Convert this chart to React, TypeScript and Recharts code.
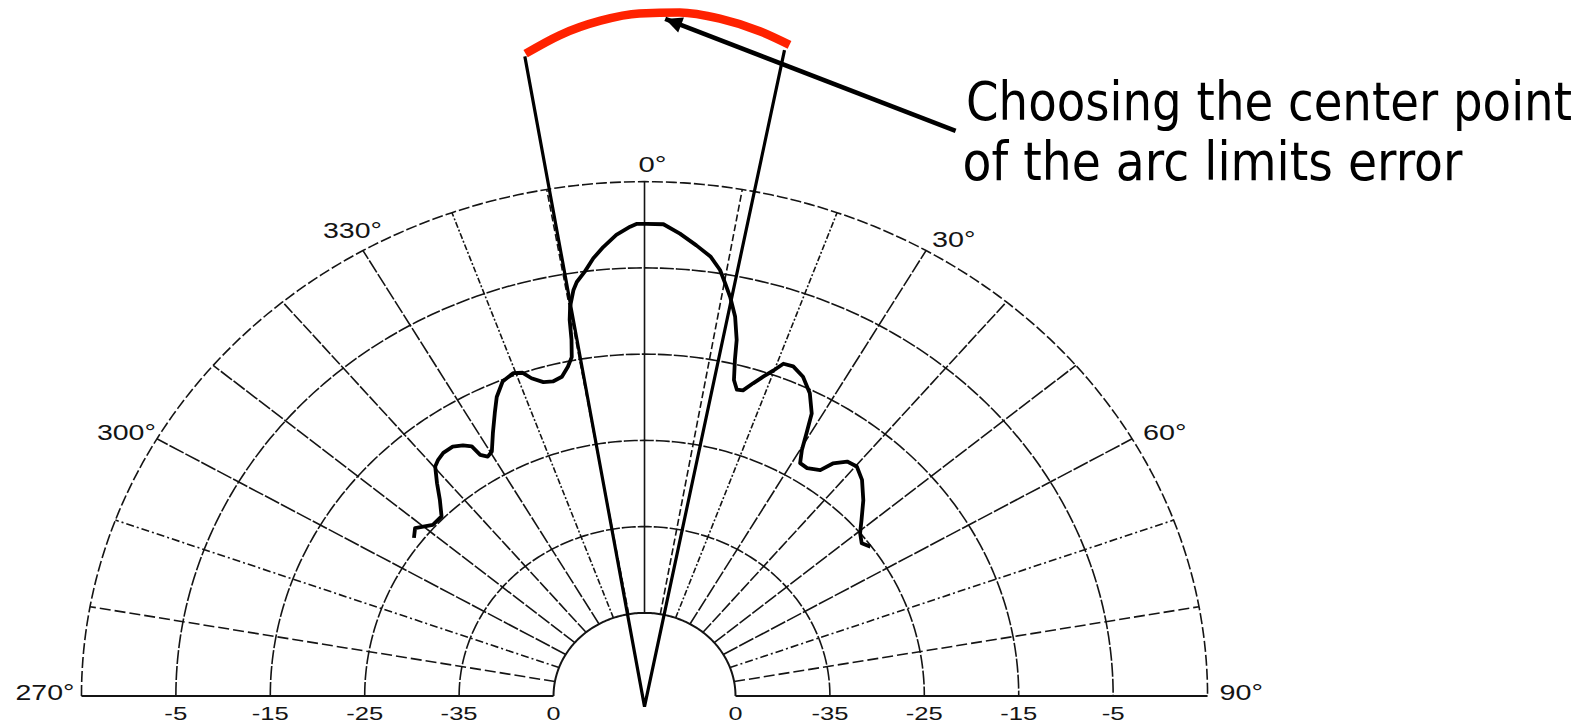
import React from 'react';
import { ComposedChart, Line, Scatter, XAxis, YAxis } from 'recharts';

// antenna pattern: compass angle (deg), level (dB)
const patternAngles = [
	-53.1, -51.3, -48.5, -45.9, -43.6, -41.7, -39.8, -38.6, -37.1, -35.1,
	-33.5, -32.3, -31.9, -30.9, -29.7, -27.8, -25.8, -24.3, -22.4, -20.4,
	-19.0, -18.0, -16.4, -14.9, -13.3, -12.0, -11.1, -10.6, -10.3, -9.9,
	-9.1, -8.5, -7.3, -6.1, -4.8, -3.2, -1.6, -0.9, 0.2, 2.1,
	4.0, 6.0, 7.8, 9.2, 10.1, 11.1, 12.3, 13.3, 13.8, 14.5,
	15.4, 16.4, 17.6, 18.8, 19.9, 20.9, 22.4, 24.4, 26.5, 28.4,
	29.4, 30.3, 31.4, 33.1, 35.4, 36.5, 38.3, 40.2, 42.6, 45.6,
	48.4, 50.4, 52.4, 54.1,
];
const patternLevels = [
	-24.1, -23.5, -24.7, -24.7, -23.2, -21.6, -20.0, -19.6, -19.3, -19.3,
	-19.8, -20.4, -21.7, -22.3, -22.0, -20.2, -18.2, -16.6, -15.2, -14.7,
	-15.0, -15.9, -16.7, -16.9, -16.6, -15.6, -14.6, -12.6, -10.3, -8.8,
	-7.0, -6.1, -5.0, -3.6, -2.4, -1.1, -0.2, 0.1, 0.1, 0.1,
	-0.9, -2.1, -3.2, -4.6, -6.0, -7.5, -9.6, -12.2, -14.5, -16.8,
	-17.8, -17.7, -16.6, -15.5, -14.5, -13.4, -13.3, -14.0, -15.4, -17.4,
	-19.7, -21.6, -23.0, -23.1, -22.5, -21.1, -20.0, -19.8, -20.6, -22.2,
	-23.9, -25.0, -25.6, -25.1,
];

const ringLevels = [-45, -35, -25, -15, -5, 5];
const ringLabels = ['0', '-35', '-25', '-15', '-5'];
const spokeAngles = [-80, -70, -60, -50, -40, -30, -20, -10, 0, 10, 20, 30, 40, 50, 60, 70, 80];
const angleTicks = [-90, -60, -30, 0, 30, 60, 90];
const angleTickLabels = ['270°', '300°', '330°', '0°', '30°', '60°', '90°'];

// red arc = the arc limits, and the wedge from the center to its ends
const limitAngles = [-9.6, -6.7, -3.4, -0.4, 2.7, 5.8, 9.0, 11.5];
const limitLevels = [20.9, 22.5, 23.8, 24.5, 24.7, 24.3, 23.4, 22.4];
const wedgeAngles = [-9.7, 180, 11.2];
const wedgeLevels = [20.6, -53.4, 21.7];
const arrowAngles = [26.7, 1.6];
const arrowLevels = [18.7, 23.9];

const noteLines = ['Choosing the center point', 'of the arc limits error'];

// plot units: outer ring radius = 100
const HOLE = 16.16;
const PER_DB = 1.677;
const X_DOMAIN = [-114.48, 168.65];
const Y_DOMAIN = [-5.64, 135.33];

const radius = (db: number) => HOLE + (db - ringLevels[0]) * PER_DB;
const polar = (deg: number, db: number) => {
	const a = (deg * Math.PI) / 180;
	const r = radius(db);
	return { x: r * Math.sin(a), y: r * Math.cos(a) };
};

const patternData = patternAngles.map((a, i) => polar(a, patternLevels[i]));
const limitData = limitAngles.map((a, i) => polar(a, limitLevels[i]));
const wedgeData = wedgeAngles.map((a, i) => polar(a, wedgeLevels[i]));
const arrowData = arrowAngles.map((a, i) => polar(a, arrowLevels[i]));

const ringSweep = Array.from({ length: 181 }, (_, i) => i - 90);
const ringData = ringLevels.map((lv) => ringSweep.map((a) => polar(a, lv)));
const outer = ringLevels[ringLevels.length - 1];
const spokeData = spokeAngles.map((a) => [polar(a, ringLevels[0]), polar(a, outer)]);
const baseData = [-90, 90].map((a) => [polar(a, ringLevels[0]), polar(a, outer)]);

const angleLabelData = angleTicks.map((a, i) => ({ ...polar(a, outer), label: angleTickLabels[i] }));
const ringLabelData = ringLabels.flatMap((label, i) => [
	{ ...polar(-90, ringLevels[i]), label },
	{ ...polar(90, ringLevels[i]), label },
]);

const spokeDash: Record<number, string> = {
	0: '', 10: '7 3', 20: '6 2 2 2', 30: '14 2', 40: '12 2', 50: '14 2', 60: '16 2', 70: '8 3 2 3', 80: '11 4',
};

const labelPlace: Record<string, { dx: number; dy: number; anchor: 'start' | 'end' }> = {
	'270°': { dx: -7, dy: 4, anchor: 'end' },
	'300°': { dx: -1, dy: 1, anchor: 'end' },
	'330°': { dx: 19, dy: -13, anchor: 'end' },
	'0°': { dx: -6, dy: -10, anchor: 'start' },
	'30°': { dx: 6, dy: -4, anchor: 'start' },
	'60°': { dx: 11, dy: 1, anchor: 'start' },
	'90°': { dx: 12, dy: 4, anchor: 'start' },
};

const labelWidth = (s: string, digit: number, minus: number, deg: number) =>
	s.split('').reduce((w, ch) => w + (ch === '-' ? minus : ch === '°' ? deg : digit), 0);

const INK = '#141414';
const LABEL_FONT = '"Liberation Sans", Arial, sans-serif';
const NOTE_FONT = '"DejaVu Sans", Verdana, sans-serif';
const NOTE_STRETCH = 1.13;

const AngleLabel = (props: any) => {
	const { cx, cy, payload } = props;
	const p = labelPlace[payload.label];
	return (
		<text
			x={cx + p.dx}
			y={cy + p.dy}
			textAnchor={p.anchor}
			fontSize={22}
			fontFamily={LABEL_FONT}
			fill={INK}
			textLength={labelWidth(payload.label, 15.5, 9, 12.5)}
			lengthAdjust="spacingAndGlyphs"
		>
			{payload.label}
		</text>
	);
};

const RingLabel = (props: any) => {
	const { cx, cy, payload } = props;
	return (
		<text
			x={cx}
			y={cy + 24}
			textAnchor="middle"
			fontSize={19}
			fontFamily={LABEL_FONT}
			fill={INK}
			textLength={labelWidth(payload.label, 14, 9, 0)}
			lengthAdjust="spacingAndGlyphs"
		>
			{payload.label}
		</text>
	);
};

const ArrowHead = (props: any) => {
	const { index, points, cx, cy } = props;
	if (index !== 1 || !points) return <g key={`ah-${index}`} />;
	const [from] = points;
	const ang = Math.atan2(cy - from.y, cx - from.x);
	const len = 17;
	const half = 8;
	const bx = cx - len * Math.cos(ang);
	const by = cy - len * Math.sin(ang);
	const px = -Math.sin(ang) * half;
	const py = Math.cos(ang) * half;
	return (
		<polygon
			key={`ah-${index}`}
			points={`${cx},${cy} ${bx + px},${by + py} ${bx - px},${by - py}`}
			fill="#000"
		/>
	);
};

const App = () => {
	return (
		<div style={{ position: 'absolute', left: 0, top: 0, width: 1594, height: 725, background: '#fff' }}>
			<ComposedChart width={1594} height={725} margin={{ top: 0, right: 0, bottom: 0, left: 0 }}>
				<XAxis type="number" dataKey="x" domain={X_DOMAIN} allowDataOverflow hide />
				<YAxis type="number" dataKey="y" domain={Y_DOMAIN} allowDataOverflow hide />
				{ringData.map((d, i) => (
					<Line
						key={`ring-${i}`}
						data={d}
						dataKey="y"
						stroke={INK}
						strokeWidth={i === 0 ? 2 : 1.6}
						strokeDasharray={i === 0 ? '' : i === ringData.length - 1 ? '11 3' : '14 2'}
						dot={false}
						activeDot={false}
						isAnimationActive={false}
					/>
				))}
				{spokeData.map((d, i) => (
					<Line
						key={`spoke-${i}`}
						data={d}
						dataKey="y"
						stroke={INK}
						strokeWidth={1.6}
						strokeDasharray={spokeDash[Math.abs(spokeAngles[i])]}
						dot={false}
						activeDot={false}
						isAnimationActive={false}
					/>
				))}
				{baseData.map((d, i) => (
					<Line
						key={`base-${i}`}
						data={d}
						dataKey="y"
						stroke={INK}
						strokeWidth={2.2}
						dot={false}
						activeDot={false}
						isAnimationActive={false}
					/>
				))}
				<Line
					data={patternData}
					dataKey="y"
					stroke="#000"
					strokeWidth={3.8}
					strokeLinejoin="round"
					dot={false}
					activeDot={false}
					isAnimationActive={false}
				/>
				<Line
					data={wedgeData}
					dataKey="y"
					stroke="#000"
					strokeWidth={3.2}
					dot={false}
					activeDot={false}
					isAnimationActive={false}
				/>
				<Line
					data={limitData}
					type="monotoneX"
					dataKey="y"
					stroke="#ff2200"
					strokeWidth={8.5}
					dot={false}
					activeDot={false}
					isAnimationActive={false}
				/>
				<Line
					data={arrowData}
					dataKey="y"
					stroke="#000"
					strokeWidth={4.5}
					dot={ArrowHead}
					activeDot={false}
					isAnimationActive={false}
				/>
				<Scatter data={angleLabelData} dataKey="y" shape={AngleLabel} isAnimationActive={false} />
				<Scatter data={ringLabelData} dataKey="y" shape={RingLabel} isAnimationActive={false} />
			</ComposedChart>
			<svg
				width={1594}
				height={725}
				style={{ position: 'absolute', left: 0, top: 0, pointerEvents: 'none' }}
			>
				<g transform={`scale(1, ${NOTE_STRETCH})`}>
					<text x={966} y={120 / NOTE_STRETCH} fontSize={46.7} fontFamily={NOTE_FONT} fill="#000" textLength={606} lengthAdjust="spacingAndGlyphs">
						{noteLines[0]}
					</text>
					<text x={962.5} y={180 / NOTE_STRETCH} fontSize={46.7} fontFamily={NOTE_FONT} fill="#000" textLength={500} lengthAdjust="spacingAndGlyphs">
						{noteLines[1]}
					</text>
				</g>
			</svg>
		</div>
	);
};

export default App;
